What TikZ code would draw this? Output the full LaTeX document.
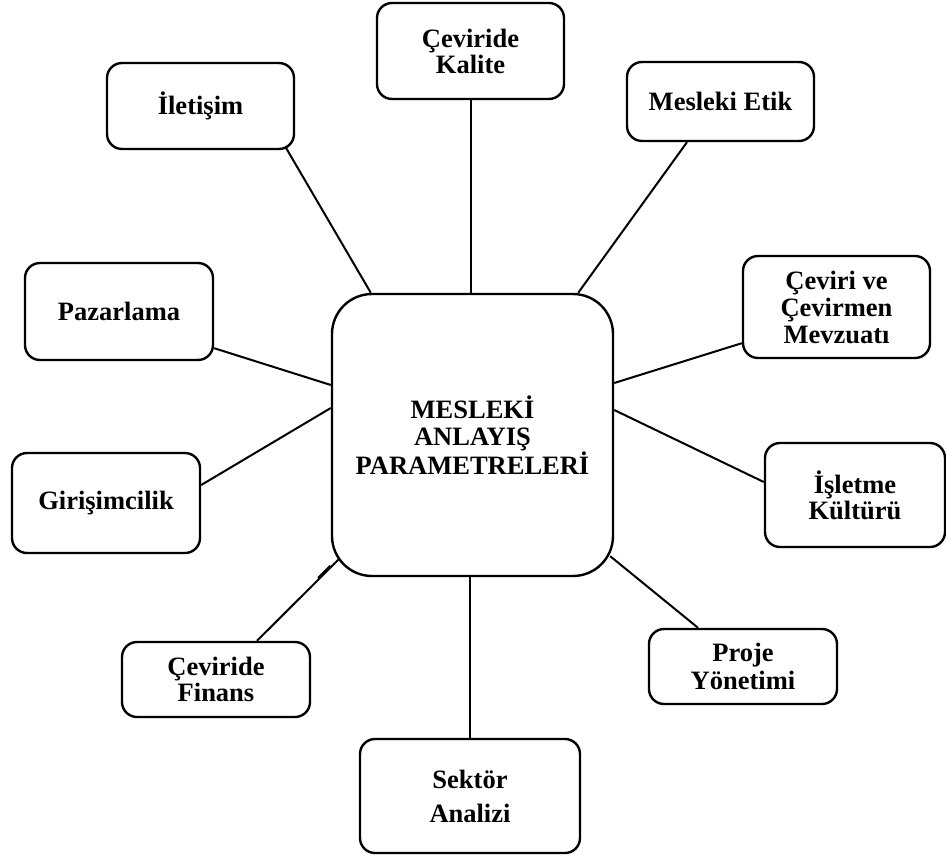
\documentclass[tikz,border=0pt]{standalone}
\usepackage{fontspec}
\setmainfont{Liberation Serif}
\begin{document}
\begin{tikzpicture}[x=1pt,y=-1pt,
  box/.style={draw,line width=2.4pt,rounded corners=15pt,align=center,
    inner sep=0pt,font=\fontsize{26.5}{27}\selectfont\bfseries},
  hub/.style={box,rounded corners=40pt},
  link/.style={line width=2pt}]
\useasboundingbox (0,0) rectangle (946,860);

% central topic
\node[hub,minimum width=281pt,minimum height=282pt] (c) at (472.5,435)
  {MESLEKİ\\ANLAYIŞ\\PARAMETRELERİ};

% surrounding topics
\node[box,minimum width=187pt,minimum height=96pt]  (kal)  at (470.5,51)  {Çeviride\\[-1pt]Kalite};
\node[box,minimum width=187pt,minimum height=86pt]  (ilet) at (200.5,106) {İletişim};
\node[box,minimum width=187pt,minimum height=79pt]  (etik) at (720.5,101.5) {Mesleki Etik};
\node[box,minimum width=188pt,minimum height=97pt]  (paz)  at (119,311.5) {Pazarlama};
\node[box,minimum width=187pt,minimum height=102pt] (mevz) at (836.5,307) {Çeviri ve\\Çevirmen\\Mevzuatı};
\node[box,minimum width=188pt,minimum height=100pt] (gir)  at (106,503)   {Girişimcilik};
\node[box,minimum width=180pt,minimum height=104pt] (isl)  at (855,495)   {İşletme\\[-1pt]Kültürü};
\node[box,minimum width=188pt,minimum height=75pt]  (fin)  at (216,679.5) {Çeviride\\[-1pt]Finans};
\node[box,minimum width=188pt,minimum height=75pt]  (proj) at (743,666.5) {Proje\\[1pt]Yönetimi};
\node[box,minimum width=220pt,minimum height=114pt] (sek)  at (470,796)   {Sektör\\[7pt]Analizi};

% connectors
\draw[link] (kal.south) -- (kal.south |- c.north);
\draw[link] ([xshift=-9pt,yshift=2pt]ilet.south east) -- ([xshift=40pt]c.north west);
\draw[link] ([xshift=-33.5pt]etik.south) -- ([xshift=-36pt]c.north east);
\draw[link] ([yshift=13pt]paz.south east) -- ([yshift=50pt]c.west);
\draw[link] ([yshift=16pt]mevz.south west) -- ([yshift=52pt]c.east);
\draw[link] ([yshift=18pt]gir.east) -- ([yshift=27pt]c.west);
\draw[link] ([yshift=13pt]isl.west) -- ([yshift=25pt]c.east);
\draw[link] ([xshift=41pt]fin.north) -- ([xshift=8pt,yshift=18pt]c.south west)
  coordinate[pos=0.77] (f1) coordinate[pos=0.92] (f2);
\draw[link] ([xshift=-2pt]f1) -- ([xshift=-2pt]f2);
\draw[link] ([xshift=-45pt]proj.north) -- ([xshift=-4pt,yshift=21pt]c.south east);
\draw[link] (sek.north) -- (sek.north |- c.south);
\end{tikzpicture}
\end{document}
